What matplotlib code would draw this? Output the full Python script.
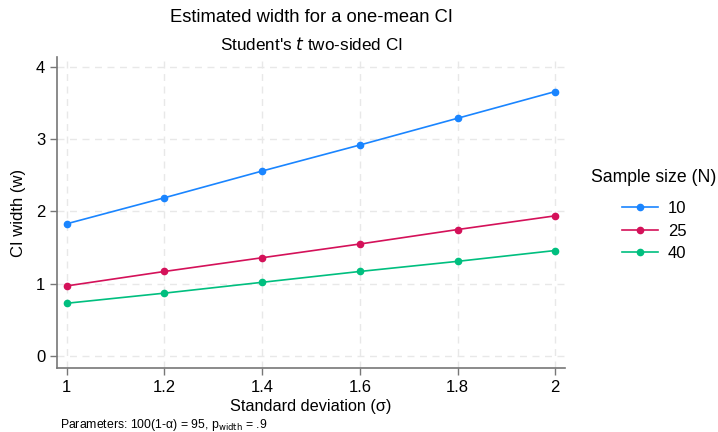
import matplotlib
matplotlib.use("Agg")
import matplotlib.pyplot as plt

plt.rcParams['font.family'] = ['Liberation Sans', 'DejaVu Sans']

sd = [1.0, 1.2, 1.4, 1.6, 1.8, 2.0]
n_labels = ["10", "25", "40"]
w_n10 = [1.83, 2.19, 2.56, 2.92, 3.29, 3.66]
w_n25 = [0.97, 1.17, 1.36, 1.55, 1.75, 1.94]
w_n40 = [0.73, 0.87, 1.02, 1.17, 1.31, 1.46]
series = [w_n10, w_n25, w_n40]
colors = ["#1a85ff", "#d41159", "#00bf7f"]
xticks = [1, 1.2, 1.4, 1.6, 1.8, 2]
xticklabels = ["1", "1.2", "1.4", "1.6", "1.8", "2"]
yticks = [0, 1, 2, 3, 4]

fig = plt.figure(figsize=(7.18, 4.32), dpi=100)
ax = fig.add_axes([57/718, 1-368/432, (565-57)/718, (368-57)/432])

handles = []
for vals, c, lab in zip(series, colors, n_labels):
    h, = ax.plot(sd, vals, color=c, lw=1.2, marker='o', ms=4.5, label=lab, zorder=3)
    handles.append(h)

ax.set_xlim(0.98, 2.02)
ax.set_ylim(-0.166, 4.138)
ax.set_xticks(xticks)
ax.set_xticklabels(xticklabels)
ax.set_yticks(yticks)
ax.grid(True, color='#e8e8e8', ls=(0, (5, 4)), lw=1)
for s in ['top', 'right']:
    ax.spines[s].set_visible(False)
for s in ['left', 'bottom']:
    ax.spines[s].set_color('#777777')
    ax.spines[s].set_linewidth(1.2)
ax.tick_params(axis='both', colors='#777777', labelcolor='black', labelsize=12, length=5, width=1)
ax.set_xlabel("Standard deviation (σ)", fontsize=11.7, labelpad=3)
ax.set_ylabel("CI width (w)", fontsize=12, labelpad=7)

fig.text(311/718, 1-18/432, "Estimated width for a one-mean CI", ha='center', va='center', fontsize=13.2)
fig.text(311/718, 1-45/432, "Student's $\\it{t}$ two-sided CI", ha='center', va='center', fontsize=12.3)
fig.text(60/718, 1-425/432, "Parameters: 100(1-α) = 95, p$_{\\mathrm{width}}$ = .9", ha='left', va='center', fontsize=8.8)

leg = fig.legend(handles=handles, labels=n_labels, loc='upper left', bbox_to_anchor=(622/718, 1-201/432),
                 frameon=False, fontsize=12, handlelength=2.16, handletextpad=0.6,
                 labelspacing=0.45, borderpad=0, borderaxespad=0)
fig.text(654/718, 1-178/432, "Sample size (N)", ha='center', va='center', fontsize=12.7)

fig.savefig("out.png", dpi=100)
